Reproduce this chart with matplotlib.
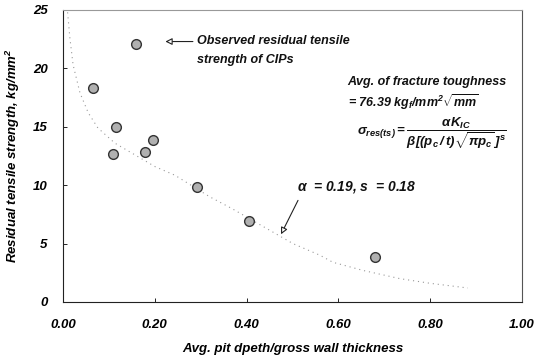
import matplotlib
matplotlib.use("Agg")
import matplotlib.pyplot as plt

plt.rcParams['font.family'] = ['Liberation Sans', 'DejaVu Sans']
plt.rcParams['mathtext.fontset'] = 'custom'
plt.rcParams['mathtext.it'] = 'Liberation Sans:bold:italic'
plt.rcParams['mathtext.rm'] = 'Liberation Sans:bold:italic'
plt.rcParams['mathtext.bf'] = 'Liberation Sans:bold:italic'

# Observed data
obs_x = [0.065, 0.159, 0.115, 0.109, 0.196, 0.179, 0.292, 0.405, 0.680]
obs_y = [18.3, 22.05, 15.0, 12.7, 13.85, 12.8, 9.83, 6.9, 3.85]

# Model curve
fit_x = [0.010, 0.015, 0.022, 0.037, 0.055, 0.076, 0.113, 0.161, 0.200,
         0.244, 0.320, 0.368, 0.430, 0.501, 0.560, 0.588, 0.654, 0.734,
         0.800, 0.882]
fit_y = [24.8, 22.6, 20.3, 17.9, 16.2, 14.9, 13.6, 12.5, 11.6,
         10.85, 9.0, 8.0, 6.6, 5.0, 4.0, 3.4, 2.7, 2.0,
         1.6, 1.2]

x_ticks = [0.0, 0.2, 0.4, 0.6, 0.8, 1.0]
x_ticklabels = ['0.00', '0.20', '0.40', '0.60', '0.80', '1.00']
y_ticks = [0, 5, 10, 15, 20, 25]

fig = plt.figure(figsize=(5.41, 3.58), dpi=100)
ax = fig.add_axes([63/541, 1-302/358, (522-63)/541, (302-10)/358])

ax.plot(fit_x, fit_y, linestyle=(0, (1, 3.5)), color='#999999', linewidth=0.8)
ax.plot(obs_x, obs_y, linestyle='none', marker='o', markersize=7,
        markerfacecolor='#b0b0b0', markeredgecolor='#333333', markeredgewidth=1.0)

ax.set_xlim(0, 1.0)
ax.set_ylim(0, 25)
ax.set_xticks(x_ticks)
ax.set_xticklabels(x_ticklabels)
ax.set_yticks(y_ticks)
ax.tick_params(direction='in', length=3, width=0.6, labelsize=9.5)
for lab in ax.get_xticklabels() + ax.get_yticklabels():
    lab.set_fontweight('bold')
    lab.set_fontstyle('italic')
ax.tick_params(axis='x', pad=12)
ax.tick_params(axis='y', pad=11)

for s in ax.spines.values():
    s.set_linewidth(0.8)
    s.set_color('#222222')
ax.spines['top'].set_color('#999999')
ax.spines['right'].set_color('#555555')

ax.set_xlabel('Avg. pit dpeth/gross wall thickness', fontsize=9.5,
              fontweight='bold', fontstyle='italic', labelpad=9)
ax.set_ylabel('Residual tensile strength, kg/mm$^2$', fontsize=9.5,
              fontweight='bold', fontstyle='italic', labelpad=8)

txt = dict(fontsize=9, fontweight='bold', fontstyle='italic', color='#111111')
arrow = dict(arrowstyle='-|>,head_length=0.4,head_width=0.2',
             fc='white', ec='#222222', lw=0.8, shrinkA=0, shrinkB=0)

ax.annotate('', xy=(0.223, 22.3), xytext=(0.283, 22.3), arrowprops=arrow)
ax.text(0.292, 22.35, 'Observed residual tensile', va='center', ha='left', **txt)
ax.text(0.292, 20.75, 'strength of CIPs', va='center', ha='left', **txt)

ax.text(0.62, 18.85, 'Avg. of fracture toughness', va='center', ha='left', **txt)
ax.text(0.62, 17.1, r'= 76.39 kg$_f$/mm$^2\sqrt{mm}$', va='center', ha='left', **txt)
ax.text(0.64, 14.4,
        r'$\sigma_{res(ts)} = \dfrac{\alpha K_{IC}}{\beta[(p_c\,/\,t)\sqrt{\pi p_c}\,]^s}$',
        va='center', ha='left', fontsize=9.5, color='#111111')

ax.annotate('', xy=(0.475, 5.8), xytext=(0.512, 8.7), arrowprops=arrow)
ax.text(0.51, 9.85, r'$\alpha$  = 0.19, s  = 0.18', va='center', ha='left',
        fontsize=10, fontweight='bold', fontstyle='italic', color='#111111')

fig.savefig('out.png', dpi=100)
